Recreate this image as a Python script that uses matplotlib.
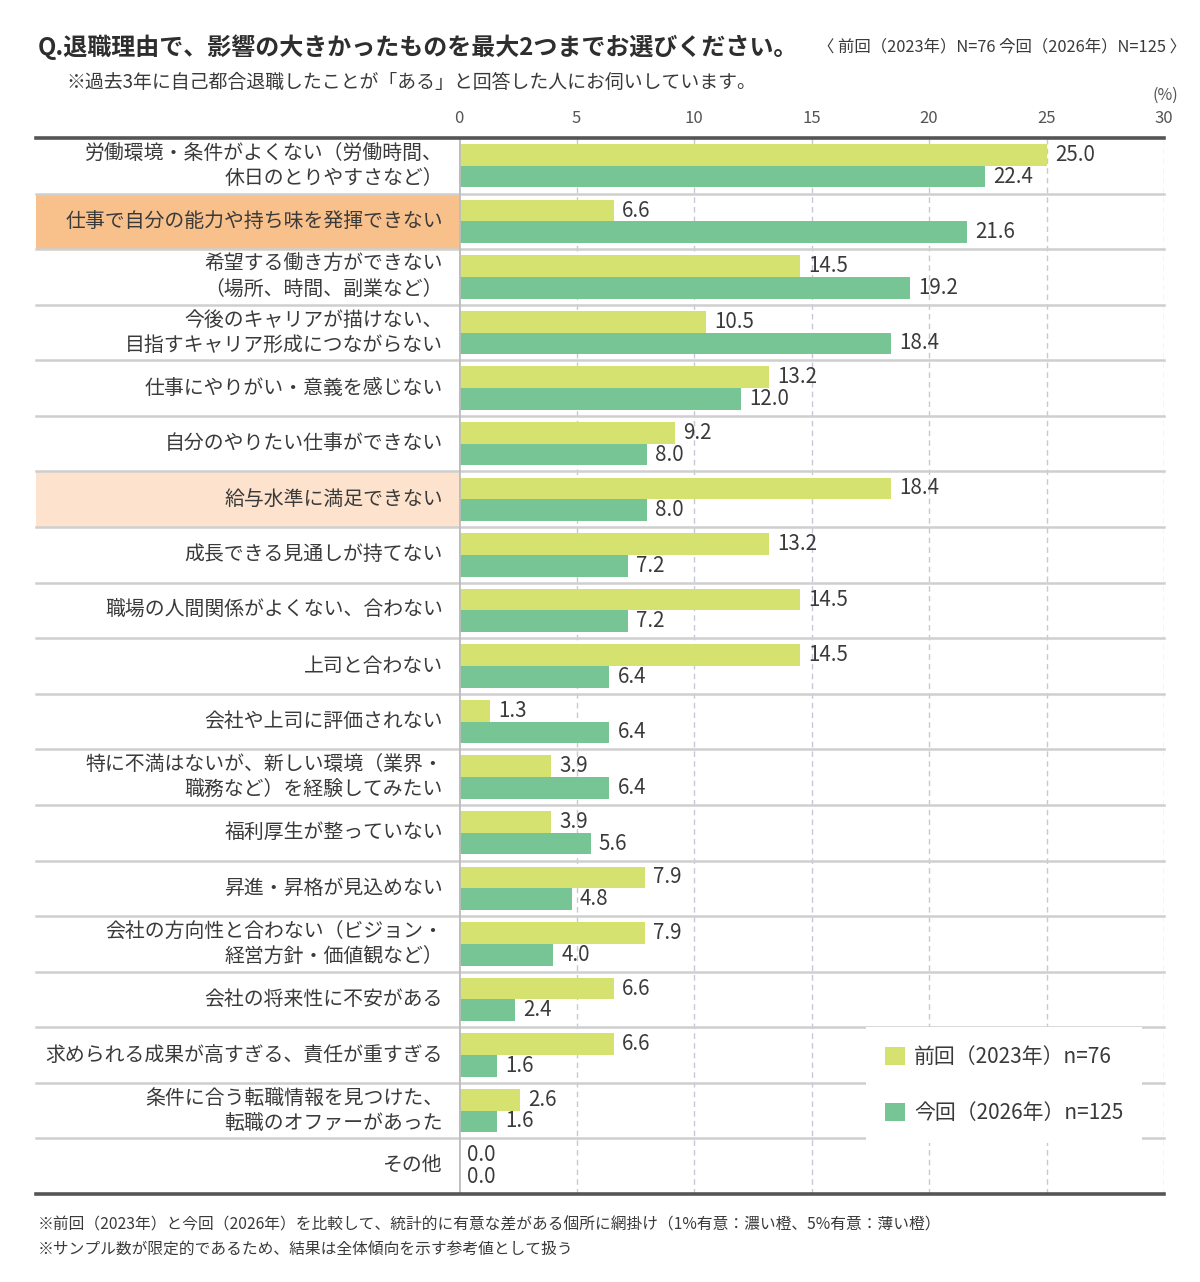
import matplotlib
matplotlib.use('Agg')
import matplotlib.pyplot as plt
from matplotlib.patches import Patch, Rectangle
import matplotlib.transforms as mtransforms

plt.rcParams['font.family'] = ['Noto Sans CJK JP', 'DejaVu Sans']

# Data
categories = [
    '労働環境・条件がよくない（労働時間、\n休日のとりやすさなど）',
    '仕事で自分の能力や持ち味を発揮できない',
    '希望する働き方ができない\n（場所、時間、副業など）',
    '今後のキャリアが描けない、\n目指すキャリア形成につながらない',
    '仕事にやりがい・意義を感じない',
    '自分のやりたい仕事ができない',
    '給与水準に満足できない',
    '成長できる見通しが持てない',
    '職場の人間関係がよくない、合わない',
    '上司と合わない',
    '会社や上司に評価されない',
    '特に不満はないが、新しい環境（業界・\n職務など）を経験してみたい',
    '福利厚生が整っていない',
    '昇進・昇格が見込めない',
    '会社の方向性と合わない（ビジョン・\n経営方針・価値観など）',
    '会社の将来性に不安がある',
    '求められる成果が高すぎる、責任が重すぎる',
    '条件に合う転職情報を見つけた、\n転職のオファーがあった',
    'その他',
]
prev_2023 = [25.0, 6.6, 14.5, 10.5, 13.2, 9.2, 18.4, 13.2, 14.5, 14.5,
             1.3, 3.9, 3.9, 7.9, 7.9, 6.6, 6.6, 2.6, 0.0]
curr_2026 = [22.4, 21.6, 19.2, 18.4, 12.0, 8.0, 8.0, 7.2, 7.2, 6.4,
             6.4, 6.4, 5.6, 4.8, 4.0, 2.4, 1.6, 1.6, 0.0]
# significance shading: 1% -> dark orange, 5% -> light orange
significance = {1: '1%', 6: '5%'}
legend_labels = ['前回（2023年）n=76', '今回（2026年）n=125']

c_prev = '#d6e270'
c_curr = '#77c594'
txt = '#3a3a3a'
shade = {'1%': '#f8c08b', '5%': '#fde3cd'}

W, H = 1200, 1282
fig = plt.figure(figsize=(W / 100, H / 100), dpi=100)

x0, x1, ytop, ybot = 459, 1164, 138, 1194
ax = fig.add_axes([x0 / W, 1 - ybot / H, (x1 - x0) / W, (ybot - ytop) / H])

n = len(categories)
ys = list(range(n))
bh = 0.39
ax.barh([y - bh / 2 for y in ys], prev_2023, height=bh, color=c_prev, zorder=3)
ax.barh([y + bh / 2 for y in ys], curr_2026, height=bh, color=c_curr, zorder=3)

for y, v in zip(ys, prev_2023):
    ax.text(v + 0.35, y - bh / 2, f'{v:.1f}', va='center', ha='left',
            fontsize=14.8, color=txt, zorder=4)
for y, v in zip(ys, curr_2026):
    ax.text(v + 0.35, y + bh / 2, f'{v:.1f}', va='center', ha='left',
            fontsize=14.8, color=txt, zorder=4)

ax.set_xlim(0, 30)
ax.set_ylim(n - 0.5, -0.5)
ax.set_yticks([])
ax.xaxis.tick_top()
ax.set_xticks([0, 5, 10, 15, 20, 25, 30])
ax.tick_params(axis='x', length=0, pad=8, labelsize=12, labelcolor='#555555')
for s in ax.spines.values():
    s.set_visible(False)

# grid
for gx in [5, 10, 15, 20, 25, 30]:
    ax.axvline(gx, color='#c5c8d6', lw=1, ls=(0, (4, 3)), zorder=1)
ax.axvline(0, color='#bdbdbd', lw=2, zorder=3.5)

left_frac = (36 - x0) / (x1 - x0)
trans = mtransforms.blended_transform_factory(ax.transAxes, ax.transData)

# shaded label cells
for i, lvl in significance.items():
    ax.add_patch(Rectangle((left_frac, i - 0.5), -left_frac, 1.0, transform=trans,
                           facecolor=shade[lvl], edgecolor='none', clip_on=False, zorder=0))

# row separators
for i in range(n - 1):
    ax.plot([left_frac, 1], [i + 0.5, i + 0.5], transform=trans, color='#cfcfcf',
            lw=1.8, clip_on=False, zorder=2)
for yy in [-0.5, n - 0.5]:
    ax.plot([left_frac, 1], [yy, yy], transform=trans, color='#555555',
            lw=2.6, clip_on=False, zorder=5)

# category labels
for y, lab in zip(ys, categories):
    ax.text(-16 / (x1 - x0), y, lab, transform=trans, ha='right', va='center',
            fontsize=14.3, color=txt, linespacing=1.25)

# legend
handles = [Patch(facecolor=c_prev, edgecolor='none'), Patch(facecolor=c_curr, edgecolor='none')]
leg = ax.legend(handles, legend_labels, loc='upper left',
                bbox_to_anchor=((866 - x0) / (x1 - x0), (ybot - 1027) / (ybot - ytop)),
                fontsize=15, frameon=True, fancybox=False, facecolor='white',
                edgecolor='none', framealpha=1, handlelength=0.95, handleheight=0.95,
                handletextpad=0.45, labelspacing=1.65, borderpad=0.9, borderaxespad=0)
for t in leg.get_texts():
    t.set_color(txt)
leg.set_zorder(6)

# titles
fig.text(38 / W, 1 - 47 / H, 'Q.退職理由で、影響の大きかったものを最大2つまでお選びください。',
         fontsize=17.3, fontweight='bold', color='#2e2e2e', va='center', ha='left')
fig.text(1186 / W, 1 - 47 / H, '〈 前回（2023年）N=76 今回（2026年）N=125 〉',
         fontsize=11.8, color=txt, va='center', ha='right')
fig.text(66 / W, 1 - 83 / H, '※過去3年に自己都合退職したことが「ある」と回答した人にお伺いしています。',
         fontsize=13.6, color=txt, va='center', ha='left')
fig.text(1178 / W, 1 - 95 / H, '(%)', fontsize=11.5, color='#555555', va='center', ha='right')

fig.text(38 / W, 1 - 1225 / H,
         '※前回（2023年）と今回（2026年）を比較して、統計的に有意な差がある個所に網掛け（1%有意：濃い橙、5%有意：薄い橙）',
         fontsize=11.3, color=txt, va='center', ha='left')
fig.text(38 / W, 1 - 1250 / H, '※サンプル数が限定的であるため、結果は全体傾向を示す参考値として扱う',
         fontsize=11.3, color=txt, va='center', ha='left')

fig.savefig('out.png', dpi=100, facecolor='white')
